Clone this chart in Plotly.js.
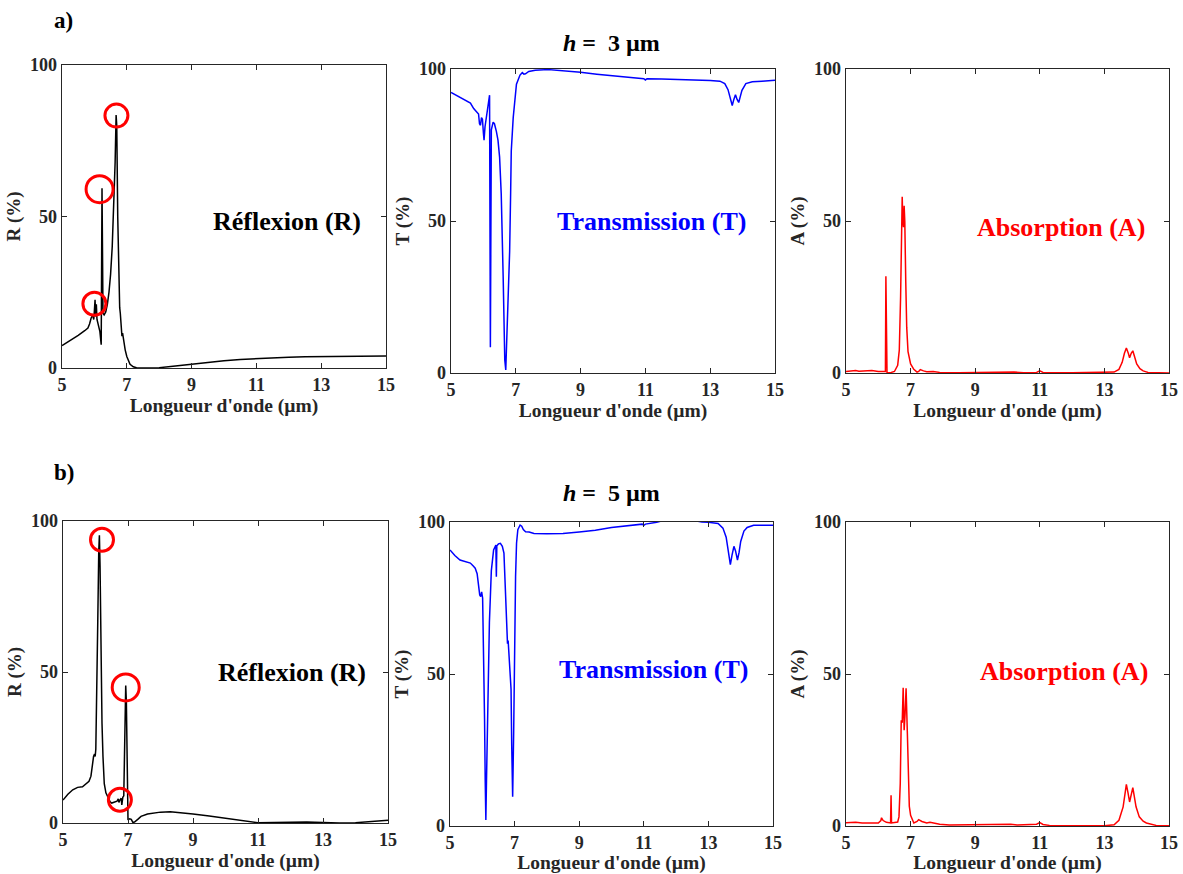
<!DOCTYPE html>
<html><head><meta charset="utf-8">
<script src="https://cdn.plot.ly/plotly-3.0.1.min.js"></script>
<style>body{margin:0;background:#fff}#chart{width:1183px;height:874px}</style>
</head><body><div id="chart"></div>
<script>
// ---------- a) h = 3 µm ----------
const wlRa = [5.0,5.3,5.5,5.7,5.8,5.85,5.9,5.95,5.98,6.0,6.02,6.04,6.06,6.08,6.12,6.17,6.21,6.235,6.265,6.3,6.35,6.4,6.45,6.5,6.55,6.6,6.64,6.67,6.69,6.72,6.75,6.78,6.8,6.82,6.85,6.87,6.9,6.95,7.0,7.05,7.1,7.2,7.3,7.5,7.8,8.0,8.5,9.0,9.5,10,10.5,11,11.5,12,12.5,13,13.5,14,14.5,15];
const Ra   = [7.4,9.3,10.8,12.3,13.2,14.5,16.5,17.5,16,19,22.5,17,21,16,14,12,7.7,59.3,18,17.5,18.5,21,25,31,40,53,68,83.5,80,50,30,20,18,13,10.5,11.5,9,6,3.8,2.2,1.2,0.4,0.1,0,0,0.1,0.7,1.3,1.9,2.4,2.8,3.1,3.35,3.55,3.7,3.8,3.85,3.9,4.0,4.0];

const wlTa = [5.0,5.3,5.6,5.7,5.8,5.85,5.88,5.91,5.94,5.97,6.0,6.02,6.05,6.09,6.14,6.19,6.215,6.245,6.3,6.34,6.4,6.45,6.5,6.55,6.61,6.66,6.69,6.73,6.78,6.81,6.84,6.86,6.92,6.97,7.02,7.13,7.2,7.25,7.3,7.4,7.6,8.0,8.5,9.0,9.5,10,10.5,10.95,11.0,11.05,11.5,12,12.5,13.0,13.3,13.45,13.55,13.62,13.68,13.73,13.78,13.83,13.88,13.93,13.98,14.1,14.3,14.6,15];
const Ta   = [92.3,90.5,88.8,87,85.8,85.2,82,81.5,84,83.5,79,76.6,81,84.3,87.5,91.4,8.5,80,82.5,82,79.5,76.6,71,59,31.7,4.3,1,15,33,40,59,73,84,91,95,98,98.8,98.3,98.4,99.2,99.6,99.8,99.4,98.9,98.3,97.8,97.3,96.8,96.4,96.8,96.7,96.6,96.4,96.2,96.0,95.2,93.2,90,88,90,91.5,90,89,91,93,95.2,95.8,96,96.3];

const wlAa = [5.0,5.2,5.3,5.4,5.6,5.8,6.0,6.2,6.22,6.235,6.25,6.27,6.4,6.5,6.6,6.65,6.69,6.72,6.74,6.76,6.78,6.8,6.82,6.85,6.88,6.92,7.0,7.1,7.2,7.25,7.3,7.4,7.5,7.7,7.9,8.5,9.2,10,10.2,10.5,10.9,11.0,11.1,12,13,13.3,13.45,13.55,13.62,13.68,13.74,13.78,13.83,13.88,13.93,14.0,14.1,14.2,14.35,15];
const Aa   = [0.5,0.6,0.8,0.6,0.6,0.8,0.5,0.3,0.5,31.8,0.5,0,0.2,0.5,2.5,7.5,25,50,58,50,48,55,50,30,15,7,3,1.2,0.3,0.5,1.1,0.7,0.4,0.5,0.2,0.1,0.2,0.1,0.3,0.1,0.2,0.7,0.2,0.1,0.1,0.3,1.2,3.5,6.5,8.2,6.5,5,6.5,7.3,5.5,3,1.4,0.7,0.2,0];

// ---------- b) h = 5 µm ----------
const wlRb = [5.0,5.15,5.3,5.45,5.6,5.7,5.8,5.86,5.9,5.94,5.97,5.99,6.01,6.04,6.07,6.1,6.12,6.14,6.17,6.2,6.23,6.27,6.32,6.38,6.45,6.5,6.58,6.66,6.7,6.72,6.75,6.79,6.81,6.84,6.87,6.9,6.93,6.95,6.98,7.0,7.05,7.1,7.15,7.2,7.3,7.4,7.6,7.8,8.0,8.3,8.6,9.0,9.5,10,10.5,11,11.5,12,12.5,13,13.5,14,14.5,15];
const Rb   = [7.6,9.5,11,11.8,12,12.8,13.8,15.5,19,22,22.8,22,24.5,40,67,90,95.3,85,55,33,22,13,10,8.3,7,6.6,6.8,7.2,8,6.8,7.6,8.2,6,8.5,9,30,45.5,40,15,1,1.4,1.2,0.2,0.3,1.2,2.2,3.0,3.4,3.6,3.7,3.5,3.0,2.3,1.5,0.7,0.1,0.2,0.3,0.3,0.2,0.0,0.1,0.4,0.9];

const wlTb = [5.0,5.15,5.31,5.5,5.63,5.72,5.78,5.84,5.88,5.92,5.95,5.98,6.01,6.04,6.07,6.09,6.11,6.13,6.16,6.19,6.22,6.28,6.35,6.42,6.435,6.45,6.5,6.56,6.62,6.67,6.72,6.76,6.78,6.8,6.82,6.85,6.87,6.89,6.91,6.94,6.97,7.0,7.03,7.06,7.1,7.17,7.22,7.27,7.34,7.45,7.6,8.0,8.5,9.0,9.5,10,10.5,10.95,11.0,11.05,11.4,11.6,12.0,12.5,12.8,13.0,13.3,13.45,13.55,13.62,13.68,13.73,13.79,13.84,13.9,13.95,14.0,14.1,14.2,14.4,14.7,15];
const Tb   = [90.8,89,87.5,87,86.5,85.5,84.8,83,79.5,76,75.5,77,75,60,35,15,2,15,35,55,67,84,90.8,92.4,82,92.2,92.8,93,92,89.8,76.6,65,60,61,57,51,49,45,27,9.6,30,62,82,93,97.5,99,98.6,97.5,96.8,96.7,96.2,96.1,96.2,96.7,97.3,98.2,98.8,99.3,98.9,99.3,99.9,100.5,100.6,100.6,100.0,99.9,99.5,98,95,90,86,89,92,90.5,87.5,90,93.6,97,98.2,98.9,98.9,98.9];

const wlAb = [5.0,5.3,5.5,5.8,6.0,6.08,6.1,6.15,6.25,6.38,6.395,6.41,6.5,6.6,6.64,6.68,6.71,6.74,6.77,6.8,6.83,6.86,6.9,6.93,6.96,7.0,7.1,7.2,7.25,7.35,7.5,7.6,7.7,7.9,8.2,9,9.5,10,10.1,10.3,10.9,11.0,11.1,11.3,12,13,13.3,13.45,13.58,13.68,13.73,13.78,13.88,13.98,14.08,14.2,14.3,14.6,15];
const Ab   = [1.1,1.2,1.0,1.1,1.0,1.8,2.7,1.8,1.2,1.0,10.1,1.0,1.1,1.3,3,14,34.8,34,45.5,31.5,37,45.3,30.4,14,6.5,3.5,1.0,1.5,2.1,1.5,1.0,1.2,1.0,0.6,0.3,0.4,0.3,0.4,0.6,0.3,0.6,1.1,0.5,0.2,0.2,0.1,0.4,1.9,6.3,13.7,11,7.9,12.6,6.3,3,1.6,1.0,0.2,0.1];

// highlighted reflection peaks (red circles)
const circA_x = [6.0, 6.16, 6.68];
const circA_y = [21.2, 59, 83.3];
const circB_x = [6.2, 6.93, 6.75];
const circB_y = [93.8, 44.9, 7.7];

const xTicks = [5,7,9,11,13,15];
const yTicks = [0,50,100];
const xLabel = "Longueur d'onde (µm)";
const panelNames = ["R (%)","T (%)","A (%)","R (%)","T (%)","A (%)"];
const panelTexts = ["Réflexion (R)","Transmission (T)","Absorption (A)","Réflexion (R)","Transmission (T)","Absorption (A)"];
const rowTitles = ["3","5"];
const rowLetters = ["a)","b)"];

// ---------- layout ----------
const W = 1183, H = 874;
const FONT = "Liberation Serif, Times New Roman, serif";
const AX = "#262626";
const boxes = [
  {l:62,r:386,t:65,b:368},
  {l:451,r:775,t:69,b:373},
  {l:846,r:1169,t:69,b:373},
  {l:63,r:388,t:521,b:823},
  {l:450,r:773,t:522,b:826},
  {l:846,r:1169,t:522,b:826}
];
const colors = ["#000000","#0000ff","#ff0000","#000000","#0000ff","#ff0000"];
const textPos = [[287,222],[652,221],[1061,227],[292,672],[654,669],[1064,671]];

const series = [[wlRa,Ra],[wlTa,Ta],[wlAa,Aa],[wlRb,Rb],[wlTb,Tb],[wlAb,Ab]];
const data = [];
const layout = {
  width: W, height: H, margin:{l:0,r:0,t:0,b:0},
  paper_bgcolor:"#fff", plot_bgcolor:"#fff", showlegend:false,
  font:{family:FONT, color:AX},
  annotations: []
};
series.forEach((s,i)=>{
  const k = i===0 ? "" : String(i+1);
  data.push({x:s[0], y:s[1], type:"scatter", mode:"lines", xaxis:"x"+k, yaxis:"y"+k,
             line:{color:colors[i], width:1.5}, hoverinfo:"skip"});
  const b = boxes[i];
  const common = {showline:true, linecolor:AX, linewidth:1.3, mirror:"ticks", ticks:"inside",
    ticklen:5, tickcolor:AX, tickwidth:1, showgrid:false, zeroline:false,
    tickfont:{family:FONT, size:18, color:AX, weight:"bold"}, fixedrange:true};
  layout["xaxis"+k] = Object.assign({}, common, {
    domain:[b.l/W, b.r/W], range:[5,15], tickvals:xTicks, anchor:"y"+k,
    title:{text:xLabel, font:{family:FONT, size:19.5, color:AX, weight:"bold"}, standoff:0}
  });
  layout["yaxis"+k] = Object.assign({}, common, {
    domain:[1-b.b/H, 1-b.t/H], range:[0,100], tickvals:yTicks, anchor:"x"+k,
    title:{text:panelNames[i], font:{family:FONT, size:19, color:AX, weight:"bold"}, standoff:4}
  });
  layout.annotations.push({xref:"paper", yref:"paper", x:textPos[i][0]/W, y:1-textPos[i][1]/H,
    text:"<b>"+panelTexts[i]+"</b>", showarrow:false, xanchor:"center", yanchor:"middle",
    font:{family:FONT, size:26, color:colors[i]}});
});
// circles
[[circA_x,circA_y,"",[23,27,23]],[circB_x,circB_y,"4",[23,27,23]]].forEach(c=>{
  data.push({x:c[0], y:c[1], type:"scatter", mode:"markers", xaxis:"x"+c[2], yaxis:"y"+c[2],
    marker:{symbol:"circle-open", size:c[3], color:"#ff0000", opacity:1, line:{width:3, color:"#ff0000"}},
    hoverinfo:"skip", cliponaxis:false});
});
// row titles and letters
const titleY = [43, 493], letterPos = [[63,20],[64,472]];
rowTitles.forEach((h,i)=>{
  layout.annotations.push({xref:"paper", yref:"paper", x:611/W, y:1-titleY[i]/H,
    text:"<b><i>h</i> =&nbsp; "+h+" µm</b>", showarrow:false, xanchor:"center", yanchor:"middle",
    font:{family:FONT, size:24, color:"#000"}});
  layout.annotations.push({xref:"paper", yref:"paper", x:letterPos[i][0]/W, y:1-letterPos[i][1]/H,
    text:"<b>"+rowLetters[i]+"</b>", showarrow:false, xanchor:"center", yanchor:"middle",
    font:{family:FONT, size:23, color:"#000"}});
});
Plotly.newPlot("chart", data, layout, {staticPlot:true, displayModeBar:false});
</script></body></html>
